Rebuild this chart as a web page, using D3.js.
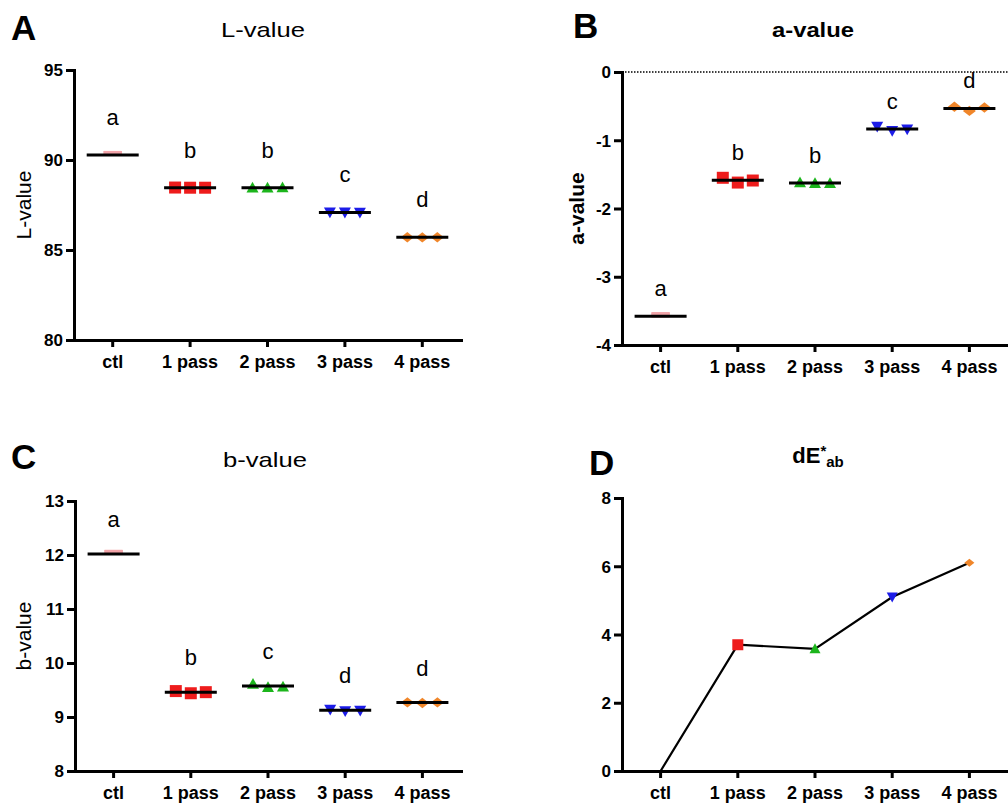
<!DOCTYPE html>
<html>
<head>
<meta charset="utf-8">
<script src="https://cdn.jsdelivr.net/npm/d3@7"></script>
<style>
  body { margin: 0; background: #fff; }
  svg { display: block; }
  text { font-family: "Liberation Sans", Arial, sans-serif; fill: #000; }
</style>
</head>
<body>
<svg id="fig" width="1008" height="810"></svg>
<script>
// ----- data
var groups = ["ctl", "1 pass", "2 pass", "3 pass", "4 pass"];

var lValues = [
    [90.28, 90.28, 90.28],
    [88.47, 88.46, 88.46],
    [88.46, 88.46, 88.47],
    [87.10, 87.09, 87.08],
    [85.71, 85.70, 85.71]
];
var aValues = [
    [-3.58, -3.58, -3.58],
    [-1.55, -1.62, -1.59],
    [-1.62, -1.63, -1.63],
    [-0.80, -0.86, -0.84],
    [-0.51, -0.57, -0.52]
];
var bValues = [
    [12.02, 12.02, 12.02],
    [9.48, 9.44, 9.46],
    [9.61, 9.55, 9.56],
    [9.14, 9.11, 9.12],
    [9.27, 9.26, 9.27]
];
var dEValues = [0, 3.70, 3.58, 5.10, 6.10];

var lLetters = ["a", "b", "b", "c", "d"];
var aLetters = ["a", "b", "b", "c", "d"];
var bLetters = ["a", "b", "c", "d", "d"];

var lTicks = [80, 85, 90, 95];
var aTicks = [-4, -3, -2, -1, 0];
var bTicks = [8, 9, 10, 11, 12, 13];
var dETicks = [0, 2, 4, 6, 8];

var groupColors = ["#f2a3a8", "#ee1c1c", "#1cb51c", "#1c1ce8", "#f0862a"];
var groupShapes = ["dash", "square", "triangle", "triangleDown", "diamond"];

var svg = d3.select("#fig");

function markerPath(shape, s) {
    var h = s / 2;
    switch (shape) {
        case "square": return "M" + (-h) + "," + (-h) + "H" + h + "V" + h + "H" + (-h) + "Z";
        case "triangle": return "M0," + (-h) + "L" + h + "," + (h * 0.8) + "L" + (-h) + "," + (h * 0.8) + "Z";
        case "triangleDown": return "M0," + h + "L" + h + "," + (-h * 0.8) + "L" + (-h) + "," + (-h * 0.8) + "Z";
        case "diamond": return "M0," + (-h * 0.8) + "L" + h + ",0L0," + (h * 0.8) + "L" + (-h) + ",0Z";
        case "dash": return "M-9,-4H9V1H-9Z";
    }
}

// common axes for one panel
function drawAxes(p) {
    var x = d3.scaleBand().domain(groups).range([p.x0, p.x1]);
    var y = d3.scaleLinear().domain(p.domain).range([p.yBot, p.yTop]);

    var g = svg.append("g");

    if (p.zeroLine) {
        g.append("line")
            .attr("x1", p.x0).attr("x2", p.x1)
            .attr("y1", y(0)).attr("y2", y(0))
            .attr("stroke", "#000")
            .attr("stroke-width", 1.3)
            .attr("stroke-dasharray", "1.5,1.5");
    }

    var yAxis = g.append("g")
        .attr("transform", "translate(" + p.x0 + ",0)")
        .call(d3.axisLeft(y).tickValues(p.ticks).tickSize(8).tickSizeOuter(0)
            .tickPadding(3).tickFormat(function (d) { return String(d); }));

    var xAxis = g.append("g")
        .attr("transform", "translate(0," + p.yBot + ")")
        .call(d3.axisBottom(x).tickSize(7).tickSizeOuter(0));

    [yAxis, xAxis].forEach(function (ax) {
        ax.select(".domain").attr("stroke-width", 3).attr("stroke-linecap", "square");
        ax.selectAll(".tick line").attr("stroke-width", 3);
        ax.selectAll("text")
            .style("font-family", '"Liberation Sans", Arial, sans-serif')
            .style("font-weight", "bold")
            .attr("fill", "#000");
    });
    yAxis.selectAll("text").style("font-size", "17px").attr("dy", "0.35em");
    xAxis.selectAll("text").style("font-size", "18px").attr("y", 28).attr("dy", null);

    // title
    var t = svg.append("text")
        .attr("x", p.titleX).attr("y", p.titleY)
        .attr("text-anchor", "middle")
        .style("font-size", "21px")
        .style("font-weight", p.bold ? "bold" : "normal");
    if (p.titleParts) {
        t.append("tspan").style("font-size", "22px").text(p.titleParts[0]);
        t.append("tspan").attr("dy", -7).style("font-size", "15px").text(p.titleParts[1]);
        t.append("tspan").attr("dy", 11).style("font-size", "15px").text(p.titleParts[2]);
    } else {
        t.text(p.title).attr("textLength", p.titleLen).attr("lengthAdjust", "spacingAndGlyphs");
    }

    // y label
    if (p.ylabel) {
        var cy = (p.yTop + p.yBot) / 2;
        svg.append("text")
            .attr("transform", "translate(" + p.ylabelX + "," + cy + ") rotate(-90)")
            .attr("text-anchor", "middle")
            .attr("dy", "0.35em")
            .style("font-size", "21px")
            .style("font-weight", p.bold ? "bold" : "normal")
            .text(p.ylabel);
    }

    // panel letter
    svg.append("text")
        .attr("x", p.letterX).attr("y", p.letterY)
        .style("font-size", "35px")
        .style("font-weight", "bold")
        .text(p.letter);

    return { x: x, y: y };
}

function drawScatterPanel(p) {
    var s = drawAxes(p);
    var x = s.x, y = s.y;
    var cx = function (i) { return x(groups[i]) + x.bandwidth() / 2; };

    var pts = [];
    p.values.forEach(function (vals, i) {
        vals.forEach(function (v, j) {
            pts.push({ i: i, v: v, dx: i === 0 ? 0 : (j - 1) * 15 });
        });
    });

    svg.append("g").selectAll("path")
        .data(pts)
        .enter().append("path")
        .attr("transform", function (d) { return "translate(" + (cx(d.i) + d.dx) + "," + y(d.v) + ")"; })
        .attr("d", function (d) { return markerPath(groupShapes[d.i], d.i === 0 ? 18 : (d.i === 4 ? 13 : 12)); })
        .attr("fill", function (d) { return groupColors[d.i]; });

    // mean lines
    svg.append("g").selectAll("line")
        .data(p.values)
        .enter().append("line")
        .attr("x1", function (d, i) { return cx(i) - 26; })
        .attr("x2", function (d, i) { return cx(i) + 26; })
        .attr("y1", function (d) { return y(d3.mean(d)); })
        .attr("y2", function (d) { return y(d3.mean(d)); })
        .attr("stroke", "#000")
        .attr("stroke-width", 3);

    // significance letters
    svg.append("g").selectAll("text")
        .data(p.letters)
        .enter().append("text")
        .attr("x", function (d, i) { return cx(i); })
        .attr("y", function (d, i) { return y(d3.mean(p.values[i])) - p.letterPad; })
        .attr("text-anchor", "middle")
        .style("font-size", "22px")
        .text(function (d) { return d; });
}

drawScatterPanel({
    x0: 74, x1: 461, yTop: 70, yBot: 340, domain: [80, 95], ticks: lTicks,
    values: lValues, letters: lLetters, letterPad: 30,
    title: "L-value", titleX: 263, titleY: 37, titleLen: 84, bold: false,
    ylabel: "L-value", ylabelX: 24,
    letter: "A", letterX: 11, letterY: 40
});

drawScatterPanel({
    x0: 622, x1: 1008, yTop: 72, yBot: 345, domain: [-4, 0], ticks: aTicks,
    values: aValues, letters: aLetters, letterPad: 20, zeroLine: true,
    title: "a-value", titleX: 813, titleY: 37, titleLen: 82, bold: true,
    ylabel: "a-value", ylabelX: 577,
    letter: "B", letterX: 573, letterY: 38
});

drawScatterPanel({
    x0: 75, x1: 461, yTop: 501, yBot: 771, domain: [8, 13], ticks: bTicks,
    values: bValues, letters: bLetters, letterPad: 27,
    title: "b-value", titleX: 265, titleY: 467, titleLen: 84, bold: false,
    ylabel: "b-value", ylabelX: 24,
    letter: "C", letterX: 11, letterY: 469
});

// ----- panel D: dE*ab line
(function () {
    var p = {
        x0: 622, x1: 1008, yTop: 498, yBot: 771, domain: [0, 8], ticks: dETicks,
        titleParts: ["dE", "*", "ab"], titleX: 818, titleY: 463, bold: true,
        letter: "D", letterX: 589, letterY: 475
    };
    var s = drawAxes(p);
    var x = s.x, y = s.y;
    var cx = function (i) { return x(groups[i]) + x.bandwidth() / 2; };

    var line = d3.line()
        .x(function (d, i) { return cx(i); })
        .y(function (d) { return y(d); });

    svg.append("path")
        .datum(dEValues)
        .attr("d", line)
        .attr("fill", "none")
        .attr("stroke", "#000")
        .attr("stroke-width", 2.2);

    svg.append("g").selectAll("path")
        .data(dEValues.map(function (v, i) { return { i: i, v: v }; }).filter(function (d) { return d.i > 0; }))
        .enter().append("path")
        .attr("transform", function (d) { return "translate(" + cx(d.i) + "," + y(d.v) + ")"; })
        .attr("d", function (d) { return markerPath(groupShapes[d.i], d.i === 4 ? 10 : 11); })
        .attr("fill", function (d) { return groupColors[d.i]; });
})();
</script>
</body>
</html>
